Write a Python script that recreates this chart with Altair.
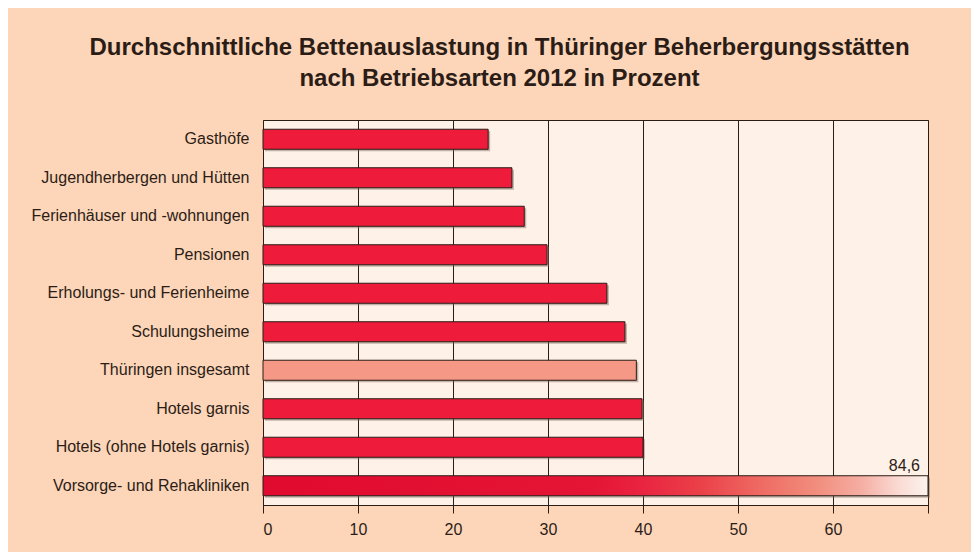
import altair as alt
import pandas as pd

categories = [
    "Gasthöfe",
    "Jugendherbergen und Hütten",
    "Ferienhäuser und -wohnungen",
    "Pensionen",
    "Erholungs- und Ferienheime",
    "Schulungsheime",
    "Thüringen insgesamt",
    "Hotels garnis",
    "Hotels (ohne Hotels garnis)",
    "Vorsorge- und Rehakliniken",
]
values = [23.7, 26.2, 27.5, 29.9, 36.2, 38.1, 39.3, 39.9, 40.0, 84.6]
value_labels = ["23,7", "26,2", "27,5", "29,9", "36,2", "38,1", "39,3", "39,9", "40,0", "84,6"]
x_ticks = [0, 10, 20, 30, 40, 50, 60, 70]
title_lines = [
    "Durchschnittliche Bettenauslastung in Thüringer Beherbergungsstätten",
    "nach Betriebsarten 2012 in Prozent",
]

df = pd.DataFrame({"kat": categories, "wert": values, "label": value_labels})
total_name = "Thüringen insgesamt"
clipped_name = "Vorsorge- und Rehakliniken"

FONT = "Liberation Sans"
DARK = "#2b1d16"

x_enc = alt.X(
    "wert:Q",
    scale=alt.Scale(domain=[0, 70], clamp=True, nice=False, zero=True),
    axis=alt.Axis(
        values=x_ticks,
        labelExpr="datum.value < 70 ? datum.label : ''",
        title=None,
        grid=True,
        gridColor=DARK,
        gridWidth=1,
        domain=True,
        domainColor=DARK,
        tickColor=DARK,
        tickSize=8,
        labelPadding=8,
        labelFontSize=16,
        labelFont=FONT,
        labelColor=DARK,
    ),
)
y_enc = alt.Y(
    "kat:N",
    sort=categories,
    scale=alt.Scale(paddingInner=0.48, paddingOuter=0.24),
    axis=alt.Axis(
        title=None,
        ticks=False,
        domain=False,
        labelPadding=14,
        labelFontSize=16,
        labelFont=FONT,
        labelColor=DARK,
        labelLimit=400,
    ),
)

base = alt.Chart(df).encode(x=x_enc, y=y_enc)

shadow = base.mark_bar(
    color="#7a655a", opacity=0.45, xOffset=2, yOffset=2
)

normal = base.transform_filter(
    alt.datum.kat != clipped_name
).mark_bar(stroke=DARK, strokeWidth=1).encode(
    color=alt.condition(
        alt.datum.kat == total_name, alt.value("#f59886"), alt.value("#ee1b3b")
    )
)

gradient = alt.Gradient(
    gradient="linear",
    x1=0, x2=1, y1=0, y2=0,
    stops=[
        alt.GradientStop(offset=0.0, color="#e10a2f"),
        alt.GradientStop(offset=0.5, color="#e51535"),
        alt.GradientStop(offset=0.567, color="#e92340"),
        alt.GradientStop(offset=0.657, color="#eb4049"),
        alt.GradientStop(offset=0.747, color="#ee6a62"),
        alt.GradientStop(offset=0.838, color="#f29080"),
        alt.GradientStop(offset=0.898, color="#f5ada2"),
        alt.GradientStop(offset=0.958, color="#fadcd5"),
        alt.GradientStop(offset=1.0, color="#fdf3ee"),
    ],
)

clipped = base.transform_filter(
    alt.datum.kat == clipped_name
).mark_bar(fill=gradient, stroke=DARK, strokeWidth=1)

clipped_text = base.transform_filter(
    alt.datum.kat == clipped_name
).mark_text(
    align="right", baseline="alphabetic", dx=-8, dy=-15,
    fontSize=16, font=FONT, color=DARK
).encode(text="label:N")

chart = alt.layer(shadow, normal, clipped, clipped_text).properties(
    width=665,
    height=385,
    autosize=alt.AutoSizeParams(type="none"),
    padding={"left": 255, "top": 112, "right": 43, "bottom": 47},
    background="#fdd5b9",
    title=alt.Title(
        text=title_lines,
        anchor="middle",
        frame="group",
        dx=-96,
        offset=29,
        fontSize=24,
        font=FONT,
        fontWeight="bold",
        color=DARK,
        lineHeight=31,
    ),
).configure_view(
    fill="#fef1e8", stroke=DARK, strokeWidth=1
)

chart.save("out.html", embed_options={"renderer": "svg", "actions": False})
